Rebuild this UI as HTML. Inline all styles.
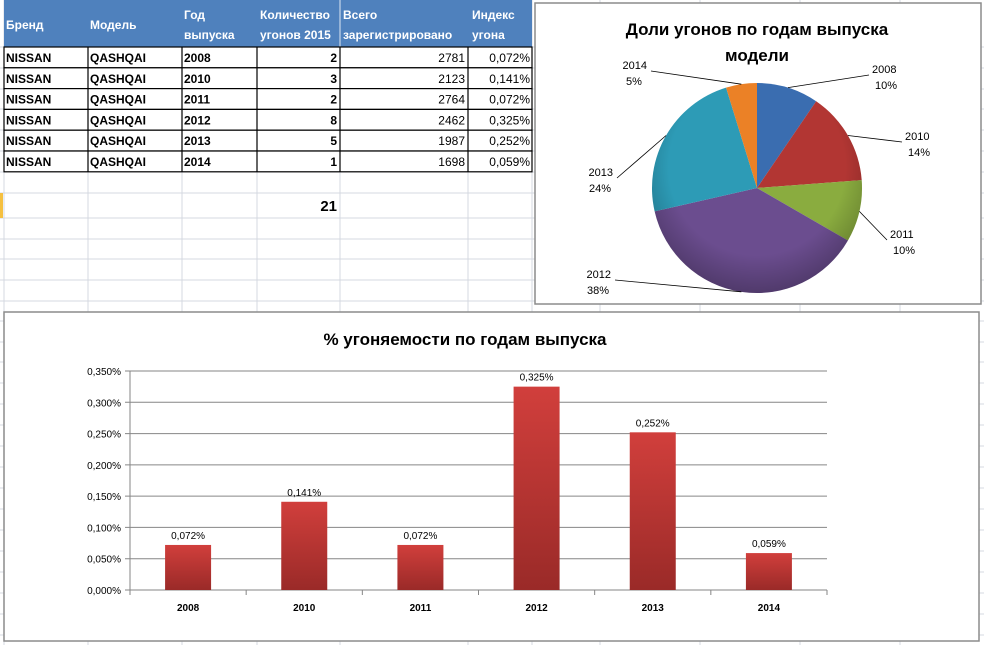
<!DOCTYPE html>
<html><head><meta charset="utf-8"><style>
body{margin:0;width:984px;height:645px;overflow:hidden;background:#fff;font-family:"Liberation Sans",Calibri,sans-serif}
svg{position:absolute;left:0;top:0}
text{font-family:"Liberation Sans","DejaVu Sans",sans-serif}
</style></head><body>
<svg id="s" width="984" height="645">
<defs>
<linearGradient id="bg" x1="0" y1="0" x2="0" y2="1"><stop offset="0" stop-color="#d13f3c"/><stop offset="1" stop-color="#9a2a28"/></linearGradient>
<radialGradient id="sh" cx="0.5" cy="0.4" r="0.6"><stop offset="0.7" stop-color="#000" stop-opacity="0"/><stop offset="1" stop-color="#000" stop-opacity="0.25"/></radialGradient>
</defs>
<g id="grid"></g>
<g id="table"></g>
<g id="pie"></g>
<g id="bar"></g>
</svg>
<script>
const brands=["NISSAN","NISSAN","NISSAN","NISSAN","NISSAN","NISSAN"];
const models=["QASHQAI","QASHQAI","QASHQAI","QASHQAI","QASHQAI","QASHQAI"];
const years=["2008","2010","2011","2012","2013","2014"];
const thefts=[2,3,2,8,5,1];
const registered=[2781,2123,2764,2462,1987,1698];
const indexLabels=["0,072%","0,141%","0,072%","0,325%","0,252%","0,059%"];
const indexValues=[0.072,0.141,0.072,0.325,0.252,0.059];
const yTicks=[0,0.05,0.1,0.15,0.2,0.25,0.3,0.35];
const yTickLabels=["0,000%","0,050%","0,100%","0,150%","0,200%","0,250%","0,300%","0,350%"];
const pieColors=["#3a6db0","#b23633","#8aac3f","#6b4d8f","#2d9bb6","#eb8126"];

const NS="http://www.w3.org/2000/svg";
function mk(p,t,a,txt){const e=document.createElementNS(NS,t);for(const k in a)e.setAttribute(k,a[k]);if(txt!==undefined)e.textContent=txt;p.appendChild(e);return e;}
const grid=document.getElementById('grid'),table=document.getElementById('table');
// sheet gridlines
const colX=[4,88,182,257,340,468,532,600,700,800,900];
const rowY=[47,68,89,109,130,151,172,193,218,239,259,280,301,321,342,362,383,404,425,446,467,488,509,530,551,572,593,614,635];
colX.forEach(x=>mk(grid,'line',{x1:x,y1:0,x2:x,y2:645,stroke:'#d4d8e0','stroke-width':1}));
rowY.forEach(y=>mk(grid,'line',{x1:0,y1:y,x2:984,y2:y,stroke:'#d4d8e0','stroke-width':1}));
let m=mk(grid,'rect',{x:0,y:193,width:3,height:25,fill:'#f5c040'});

// header
let h=mk(table,'rect',{x:4,y:0,width:528,height:47,fill:'#4f81bd'});

[[6,'Бренд',null],[90,'Модель',null],[184,'Год','выпуска'],[260,'Количество','угонов 2015'],[343,'Всего','зарегистрировано'],[472,'Индекс','угона']].forEach(c=>{
  if(c[2]){let a=mk(table,'text',{x:c[0],y:19,fill:'#fff','font-size':12,'font-weight':'bold'},c[1]);
    mk(table,'text',{x:c[0],y:39,fill:'#fff','font-size':12,'font-weight':'bold'},c[2]);}
  else {let a=mk(table,'text',{x:c[0],y:29,fill:'#fff','font-size':12,'font-weight':'bold'},c[1]);}
});
mk(table,'line',{x1:340,y1:0,x2:340,y2:47,stroke:'#dce6f2'});
for(let i=0;i<6;i++){
  const y0=47+i*20.8, ty=y0+15;
  const r=mk(table,'g',{});
  mk(r,'rect',{x:4,y:y0,width:528,height:20.8,fill:'#fff',stroke:'#000','stroke-width':1.2});
  [88,182,257,340,468].forEach(x=>mk(r,'line',{x1:x,y1:y0,x2:x,y2:y0+20.8,stroke:'#000','stroke-width':1.2}));
  mk(r,'text',{x:6,y:ty,'font-size':12,'font-weight':'bold'},brands[i]);
  mk(r,'text',{x:90,y:ty,'font-size':12,'font-weight':'bold'},models[i]);
  mk(r,'text',{x:184,y:ty,'font-size':12,'font-weight':'bold'},years[i]);
  mk(r,'text',{x:337,y:ty,'font-size':12,'font-weight':'bold','text-anchor':'end'},thefts[i]);
  mk(r,'text',{x:465,y:ty,'font-size':12,'text-anchor':'end'},registered[i]);
  mk(r,'text',{x:530,y:ty,'font-size':12,'text-anchor':'end'},indexLabels[i]);
}
let tot=mk(table,'text',{x:337,y:211,'font-size':15,'font-weight':'bold','text-anchor':'end'},thefts.reduce((a,b)=>a+b,0));


// PIE
const pie=document.getElementById('pie');
mk(pie,'rect',{x:535,y:3,width:446,height:301,fill:'#fff',stroke:'#8c8c8c','stroke-width':1.5});
let pt=mk(pie,'text',{x:757,y:35,'font-size':17,'font-weight':'bold','text-anchor':'middle'},'Доли угонов  по годам  выпуска');

mk(pie,'text',{x:757,y:61,'font-size':17,'font-weight':'bold','text-anchor':'middle'},'модели');
const cx=757,cy=188,R=105,total=thefts.reduce((a,b)=>a+b,0);
const labelPos=[[872,73,'start'],[905,140,'start'],[890,238,'start'],[612,278,'end'],[614,176,'end'],[648,69,'end']];
let ang=-Math.PI/2;
thefts.forEach((v,i)=>{
  const a2=ang+v/total*2*Math.PI;
  const x1=cx+R*Math.cos(ang),y1=cy+R*Math.sin(ang),x2=cx+R*Math.cos(a2),y2=cy+R*Math.sin(a2);
  const p=mk(pie,'path',{d:`M${cx},${cy}L${x1},${y1}A${R},${R} 0 ${a2-ang>Math.PI?1:0} 1 ${x2},${y2}Z`,fill:pieColors[i]});
  
  const mid=(ang+a2)/2, ex=cx+R*Math.cos(mid), ey=cy+R*Math.sin(mid);
  const lp=labelPos[i];
  const lx=lp[2]=='start'?lp[0]-3:lp[0]+3;
  mk(pie,'polyline',{points:`${ex},${ey} ${lx},${lp[1]+2} ${lp[2]=='start'?lx:lx},${lp[1]+2}`,fill:'none',stroke:'#000','stroke-width':0.8});
  const pct=Math.round(v/total*100)+'%';
  const t=mk(pie,'text',{x:lp[0]+(lp[2]=='start'?0:-1),y:lp[1],'font-size':11,'text-anchor':lp[2]=='start'?'start':'end'},years[i]);
  
  const w=lp[2]=='start'?14:-14;
  mk(pie,'text',{x:lp[0]+w,y:lp[1]+16,'font-size':11,'text-anchor':'middle'},pct);
  ang=a2;
});
mk(pie,'circle',{cx:cx,cy:cy,r:R,fill:'url(#sh)'});

// BAR
const bar=document.getElementById('bar');
mk(bar,'rect',{x:4,y:312,width:975,height:329,fill:'#fff',stroke:'#8c8c8c','stroke-width':1.5});
let bt=mk(bar,'text',{x:465,y:345,'font-size':17,'font-weight':'bold','text-anchor':'middle'},'% угоняемости  по годам  выпуска');

const X0=130,X1=827,Y0=590,Y1=371,ymax=0.35;
const yS=v=>Y0-(v/ymax)*(Y0-Y1);
const cw=(X1-X0)/years.length;
yTicks.forEach((t,i)=>{
  const y=yS(t);
  const g=mk(bar,'line',{x1:X0-5,y1:y,x2:X1,y2:y,stroke:'#868686','stroke-width':1});
  
  const l=mk(bar,'text',{x:X0-9,y:y+4,'font-size':10,'text-anchor':'end'},yTickLabels[i]);
  
});
mk(bar,'line',{x1:X0,y1:Y1,x2:X0,y2:Y0,stroke:'#868686'});
for(let i=0;i<=years.length;i++){const x=X0+i*cw;mk(bar,'line',{x1:x,y1:Y0,x2:x,y2:Y0+5,stroke:'#868686'});}
indexValues.forEach((v,i)=>{
  const c=X0+cw*(i+0.5),bw=46;
  const r=mk(bar,'rect',{x:c-bw/2,y:yS(v),width:bw,height:Y0-yS(v),fill:'url(#bg)'});
  
  const l=mk(bar,'text',{x:c,y:yS(v)-6,'font-size':10,'text-anchor':'middle'},indexLabels[i]);
  
  const xl=mk(bar,'text',{x:c,y:Y0+21,'font-size':10,'font-weight':'bold','text-anchor':'middle'},years[i]);
  
});
</script>
</body></html>
